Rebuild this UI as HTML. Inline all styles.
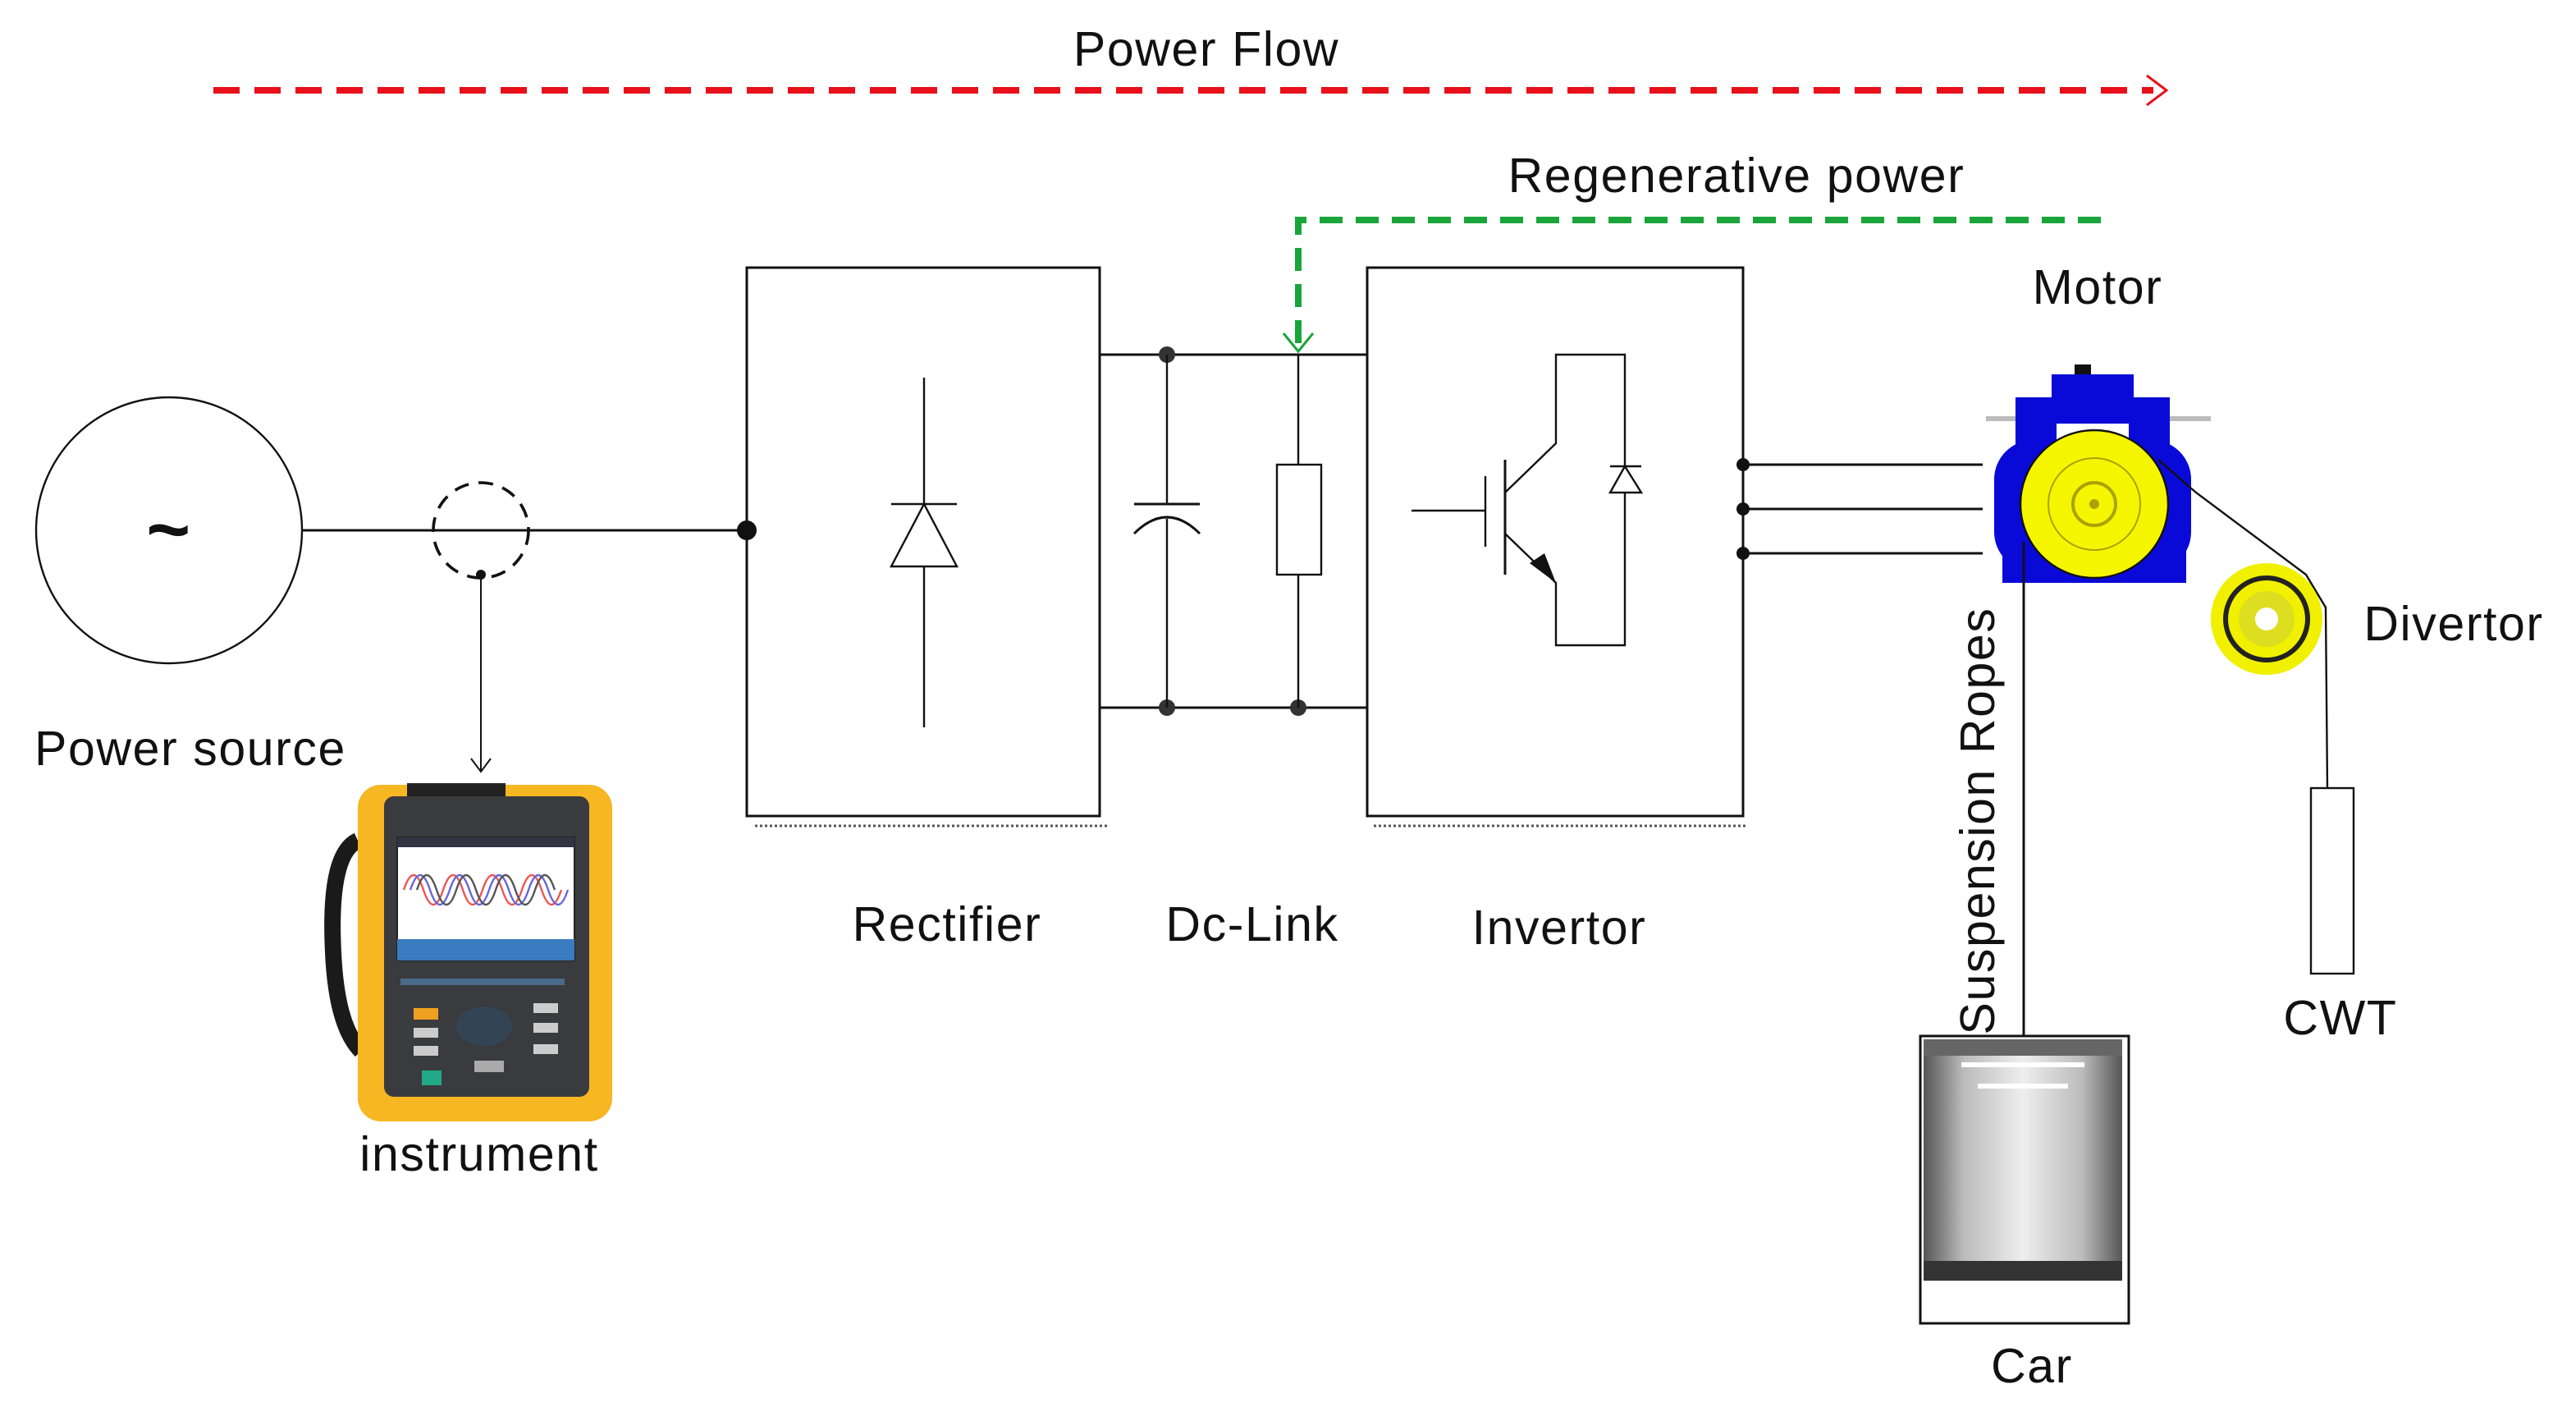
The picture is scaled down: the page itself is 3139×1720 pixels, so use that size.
<!DOCTYPE html>
<html><head><meta charset="utf-8"><style>
html,body{margin:0;padding:0;background:#fff;}
svg{display:block;}
text{font-family:"Liberation Sans",sans-serif;font-size:29.5px;fill:#111;letter-spacing:0.8px;}
</style></head><body>
<svg width="3139" height="1720" viewBox="0 0 1569.5 860" xmlns="http://www.w3.org/2000/svg">
<defs>
<linearGradient id="car" x1="0" x2="1" y1="0" y2="0"><stop offset="0" stop-color="#555"/><stop offset="0.2" stop-color="#bbb"/><stop offset="0.5" stop-color="#eee"/><stop offset="0.8" stop-color="#bbb"/><stop offset="1" stop-color="#555"/></linearGradient>
</defs>
<text x="735" y="40" text-anchor="middle">Power Flow</text>
<line x1="130" y1="55" x2="1312" y2="55" stroke="#e8101a" stroke-width="4" stroke-dasharray="16,9"/>
<polyline points="1308,46 1320,55 1308,64" fill="none" stroke="#e8101a" stroke-width="1.5"/>
<text x="1058" y="117" text-anchor="middle">Regenerative power</text>
<polyline points="1280,134 791,134 791,212" fill="none" stroke="#19a53a" stroke-width="4" stroke-dasharray="14,8"/>
<polyline points="782,203 791,214 800,203" fill="none" stroke="#19a53a" stroke-width="1.5"/>
<circle cx="103" cy="323" r="81" fill="none" stroke="#111" stroke-width="1.2"/>
<text x="103" y="338" text-anchor="middle" style="font-size:46px;font-weight:bold">~</text>
<text x="116" y="466" text-anchor="middle">Power source</text>
<line x1="184" y1="323" x2="455" y2="323" stroke="#111" stroke-width="1.5"/>
<circle cx="455" cy="323" r="6" fill="#111"/>
<circle cx="293" cy="323" r="29" fill="none" stroke="#111" stroke-width="1.8" stroke-dasharray="9,6"/>
<circle cx="293" cy="350" r="3" fill="#111"/>
<line x1="293" y1="350" x2="293" y2="470" stroke="#111" stroke-width="1"/>
<polyline points="287,462 293,470 299,462" fill="none" stroke="#111" stroke-width="1"/>
<g>
<path d="M218,512 Q200,520 203,580 Q205,625 220,640" fill="none" stroke="#1a1a1a" stroke-width="10"/>
<rect x="218" y="478" width="155" height="205" rx="14" fill="#f6b723"/>
<rect x="234" y="485" width="125" height="183" rx="6" fill="#3a3b3e"/>
<rect x="242" y="510" width="108" height="75" fill="#fff" stroke="#222"/>
<rect x="242" y="510" width="108" height="6" fill="#334"/>
<path d="M246,530 q6,-18 12,0 t12,0 t12,0 t12,0 t12,0 t12,0 t12,0 t12,0" fill="none" stroke="#e55" stroke-width="1.2" transform="translate(0,12)"/>
<path d="M250,530 q6,-18 12,0 t12,0 t12,0 t12,0 t12,0 t12,0 t12,0 t12,0" fill="none" stroke="#66d" stroke-width="1.2" transform="translate(0,12)"/>
<path d="M254,530 q6,-18 12,0 t12,0 t12,0 t12,0 t12,0 t12,0 t12,0" fill="none" stroke="#555" stroke-width="1.2" transform="translate(0,12)"/>
<rect x="242" y="572" width="108" height="13" fill="#3a7cc0"/>
<rect x="248" y="477" width="60" height="8" fill="#222"/>
<rect x="252" y="614" width="15" height="7" fill="#f0a020"/>
<rect x="252" y="626" width="15" height="6" fill="#ccc"/><rect x="252" y="637" width="15" height="6" fill="#ccc"/>
<rect x="325" y="611" width="15" height="6" fill="#ccc"/><rect x="325" y="623" width="15" height="6" fill="#ccc"/><rect x="325" y="636" width="15" height="6" fill="#ccc"/>
<ellipse cx="295" cy="625" rx="17" ry="12" fill="#345"/>
<rect x="257" y="652" width="12" height="9" fill="#2a8"/>
<rect x="289" y="646" width="18" height="7" fill="#aaa"/>
<rect x="244" y="596" width="100" height="4" fill="#4a6a8a"/>
</g>
<text x="292" y="713" text-anchor="middle">instrument</text>
<rect x="455" y="163" width="215" height="334" fill="none" stroke="#111" stroke-width="1.5"/>
<line x1="460" y1="503" x2="676" y2="503" stroke="#555" stroke-width="1.5" stroke-dasharray="1.5,1.5"/>
<line x1="563" y1="230" x2="563" y2="443" stroke="#111" stroke-width="1.2"/>
<polygon points="543,345 583,345 563,307" fill="#fff" stroke="#111" stroke-width="1.2"/>
<line x1="543" y1="307" x2="583" y2="307" stroke="#111" stroke-width="1.2"/>
<text x="577" y="573" text-anchor="middle">Rectifier</text>
<line x1="670" y1="216" x2="833" y2="216" stroke="#111" stroke-width="1.5"/>
<line x1="670" y1="431" x2="833" y2="431" stroke="#111" stroke-width="1.5"/>
<circle cx="711" cy="216" r="5" fill="#333"/><circle cx="711" cy="431" r="5" fill="#333"/><circle cx="791" cy="431" r="5" fill="#333"/>
<line x1="711" y1="216" x2="711" y2="307" stroke="#111" stroke-width="1.2"/>
<line x1="691" y1="307" x2="731" y2="307" stroke="#111" stroke-width="1.5"/>
<path d="M691,325 Q711,305 731,325" fill="none" stroke="#111" stroke-width="1.5"/>
<line x1="711" y1="316" x2="711" y2="431" stroke="#111" stroke-width="1.2"/>
<line x1="791" y1="216" x2="791" y2="431" stroke="#111" stroke-width="1.2"/>
<rect x="778" y="283" width="27" height="67" fill="#fff" stroke="#111" stroke-width="1.2"/>
<text x="763" y="573" text-anchor="middle">Dc-Link</text>
<rect x="833" y="163" width="229" height="334" fill="none" stroke="#111" stroke-width="1.5"/>
<line x1="837" y1="503" x2="1064" y2="503" stroke="#555" stroke-width="1.5" stroke-dasharray="1.5,1.5"/>
<line x1="860" y1="311" x2="905" y2="311" stroke="#111" stroke-width="1.2"/>
<line x1="905" y1="290" x2="905" y2="333" stroke="#111" stroke-width="1.2"/>
<line x1="917" y1="280" x2="917" y2="350" stroke="#111" stroke-width="1.5"/>
<polyline points="917,300 948,270 948,216 990,216 990,393 948,393 948,355 917,325" fill="none" stroke="#111" stroke-width="1.2"/>
<polygon points="948,355 932,343 941,337" fill="#111"/>
<polygon points="981,300 1000,300 990,284" fill="#fff" stroke="#111" stroke-width="1.2"/>
<line x1="981" y1="284" x2="1000" y2="284" stroke="#111" stroke-width="1.2"/>
<text x="950" y="575" text-anchor="middle">Invertor</text>
<g stroke="#111" stroke-width="1.5"><line x1="1062" y1="283" x2="1208" y2="283"/><line x1="1062" y1="310" x2="1208" y2="310"/><line x1="1062" y1="337" x2="1208" y2="337"/></g>
<circle cx="1062" cy="283" r="4" fill="#111"/><circle cx="1062" cy="310" r="4" fill="#111"/><circle cx="1062" cy="337" r="4" fill="#111"/>
<text x="1278" y="185" text-anchor="middle">Motor</text>
<line x1="1210" y1="255" x2="1347" y2="255" stroke="#bbb" stroke-width="3"/>
<rect x="1264" y="222" width="10" height="10" fill="#111"/>
<rect x="1250" y="228" width="50" height="30" fill="#0a0ad8"/>
<rect x="1228" y="242" width="25" height="55" fill="#0a0ad8"/><rect x="1297" y="242" width="25" height="55" fill="#0a0ad8"/>
<rect x="1215" y="268" width="120" height="80" rx="24" fill="#0a0ad8"/>
<rect x="1220" y="325" width="112" height="30" fill="#0a0ad8"/>
<circle cx="1276" cy="307" r="45" fill="#f5f500" stroke="#111" stroke-width="1.2"/>
<circle cx="1276" cy="307" r="28" fill="none" stroke="#aaa200" stroke-width="1"/>
<circle cx="1276" cy="307" r="13" fill="none" stroke="#aaa200" stroke-width="2"/>
<circle cx="1276" cy="307" r="3" fill="#aaa200"/>
<line x1="1233" y1="330" x2="1233" y2="631" stroke="#111" stroke-width="1.5"/>
<polyline points="1315,280 1338,300 1405,350 1417,370 1418,480" fill="none" stroke="#111" stroke-width="1.2"/>
<text transform="translate(1215,500) rotate(-90)" text-anchor="middle">Suspension Ropes</text>
<circle cx="1381" cy="377" r="34" fill="#f0f000"/>
<circle cx="1381" cy="377" r="25" fill="none" stroke="#222" stroke-width="3"/>
<circle cx="1381" cy="377" r="17" fill="#dede20"/>
<circle cx="1381" cy="377" r="7" fill="#fff"/>
<text x="1495" y="390" text-anchor="middle">Divertor</text>
<rect x="1408" y="480" width="26" height="113" fill="#fff" stroke="#111" stroke-width="1.2"/>
<text x="1426" y="630" text-anchor="middle">CWT</text>
<rect x="1170" y="631" width="127" height="175" fill="#fff" stroke="#111" stroke-width="1.5"/>
<rect x="1172" y="633" width="121" height="147" fill="url(#car)"/>
<rect x="1172" y="633" width="121" height="10" fill="#666"/>
<rect x="1195" y="647" width="75" height="3" fill="#fff"/><rect x="1205" y="660" width="55" height="3" fill="#fff"/>
<rect x="1172" y="768" width="121" height="12" fill="#333"/>
<text x="1238" y="842" text-anchor="middle">Car</text>
</svg>
</body></html>
